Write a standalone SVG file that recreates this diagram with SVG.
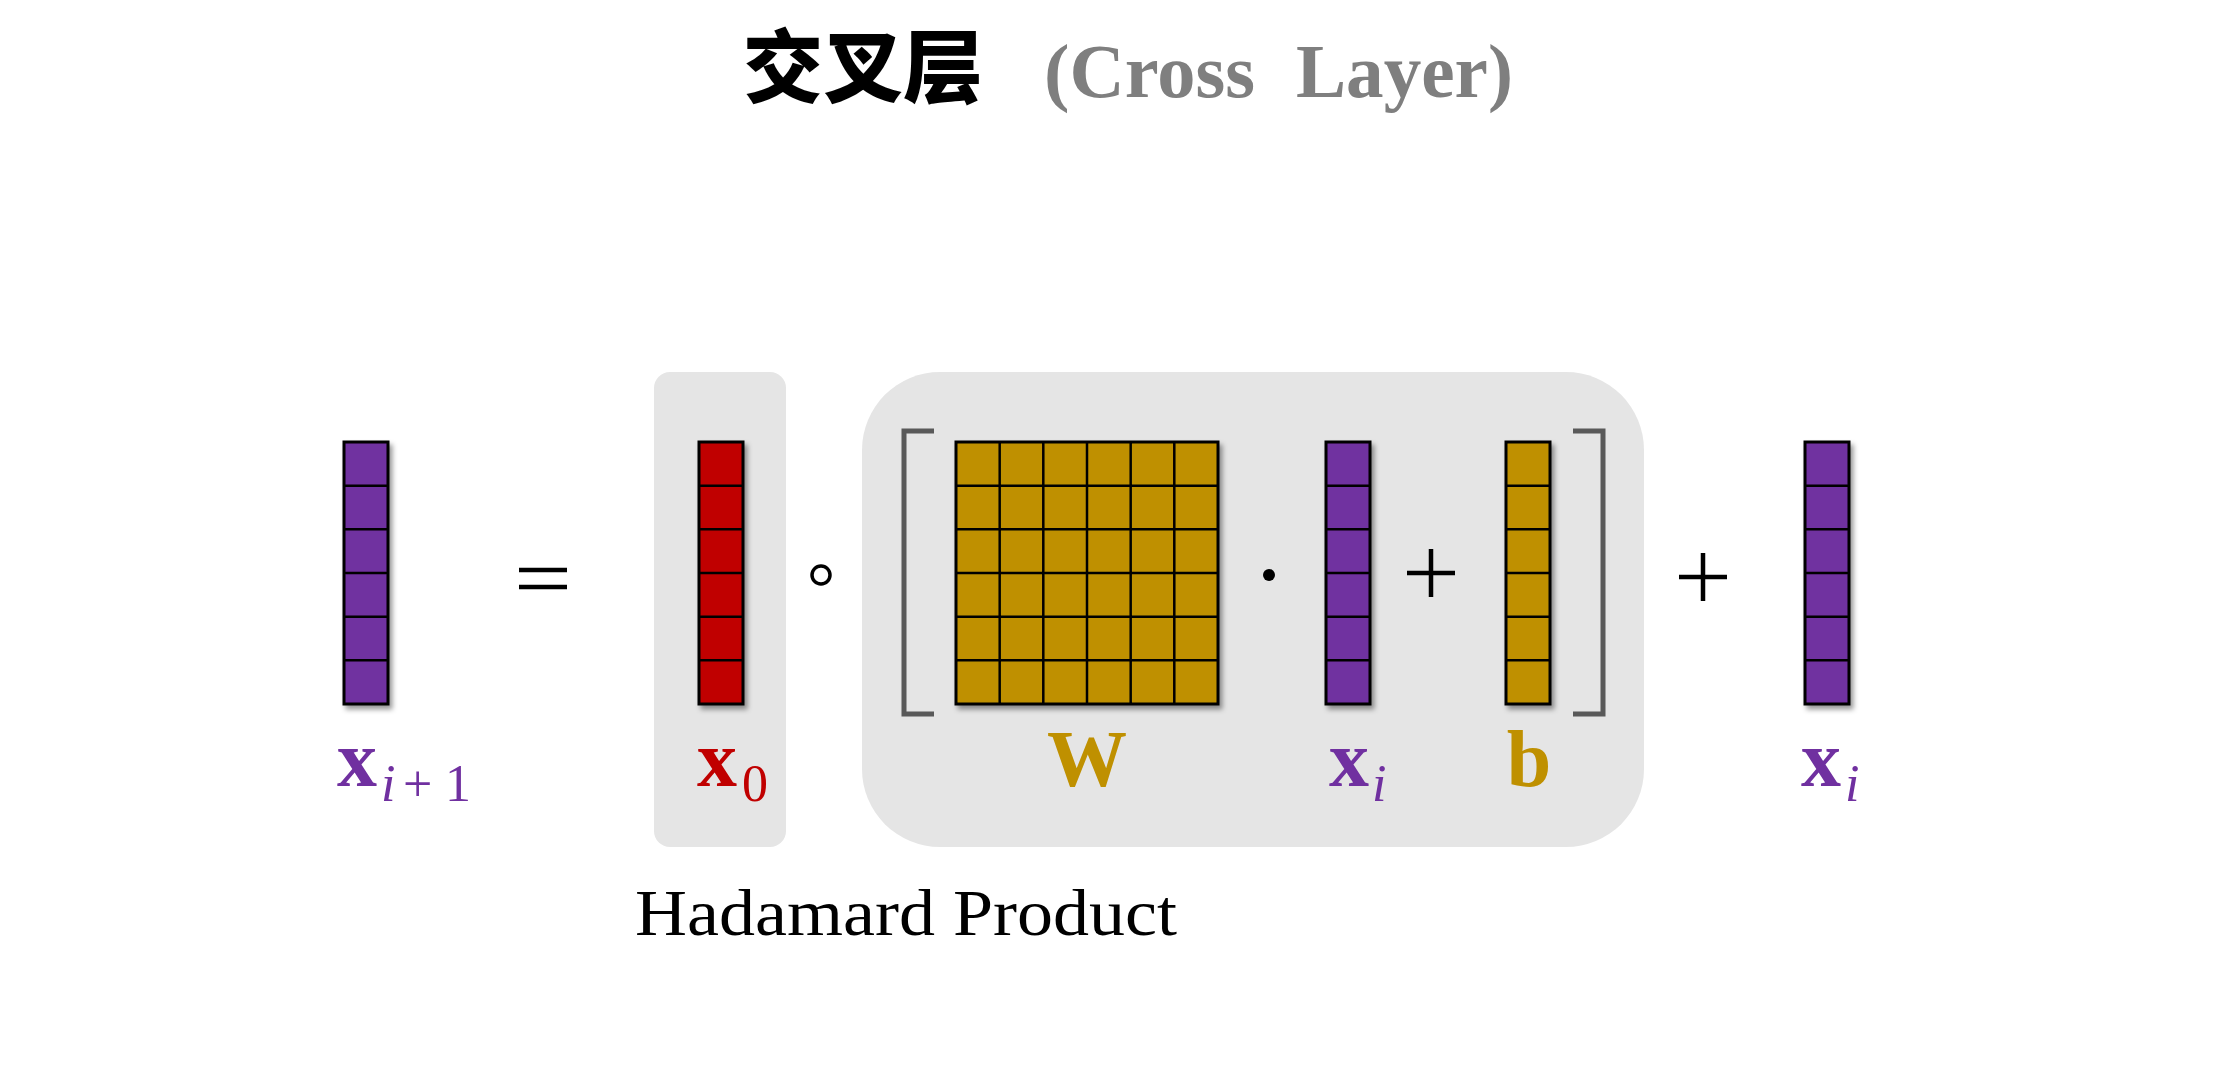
<svg xmlns="http://www.w3.org/2000/svg" xmlns:xlink="http://www.w3.org/1999/xlink" width="2228" height="1082" viewBox="0 0 2228 1082">
<style>
.lbl{font-family:"Liberation Serif","DejaVu Serif",serif;font-weight:bold;font-size:80px}
.sub{font-family:"Liberation Serif","DejaVu Serif",serif;font-size:52px;font-weight:normal}
.it{font-style:italic}
.grid{stroke:#000;stroke-width:2.5;fill:none}
.op{stroke:#000;stroke-width:4.5;fill:none}
.brk{stroke:#595959;stroke-width:5;fill:none}
.panel{fill:#E5E5E5}
</style>
<defs>
<filter id="sh" x="-30%" y="-10%" width="170%" height="130%">
<feDropShadow dx="3" dy="4" stdDeviation="2.5" flood-color="#000" flood-opacity="0.4"/>
</filter>
<g id="vec">
<rect x="0" y="0" width="44" height="262" stroke="#000" stroke-width="3"/>
<path class="grid" d="M0 43.7H44M0 87.3H44M0 131H44M0 174.7H44M0 218.3H44"/>
</g>
</defs>
<rect width="2228" height="1082" fill="#fff"/>

<g id="title">
<text x="743" y="96" font-family="'Noto Sans CJK SC','Noto Sans CJK JP',sans-serif" font-weight="900" font-size="80" fill="#000">交叉层</text>
<text x="1044" y="97" font-family="'Liberation Serif',serif" font-weight="bold" font-size="76" fill="#7F7F7F" textLength="211" lengthAdjust="spacingAndGlyphs">(Cross</text>
<text x="1296" y="97" font-family="'Liberation Serif',serif" font-weight="bold" font-size="76" fill="#7F7F7F" textLength="217" lengthAdjust="spacingAndGlyphs">Layer)</text>
</g>

<g id="panel-x0"><rect class="panel" x="654" y="372" width="132" height="475" rx="16"/></g>
<g id="panel-linear"><rect class="panel" x="862" y="372" width="782" height="475" rx="78"/></g>

<g id="vec-xi1">
<use xlink:href="#vec" href="#vec" x="344" y="442" fill="#7030A0" filter="url(#sh)"/>
<text class="lbl" x="337" y="786" fill="#7030A0">x<tspan class="sub it" x="381" y="801">i</tspan><tspan class="sub" x="403" y="801">+</tspan><tspan class="sub" x="445" y="801">1</tspan></text>
</g>

<g id="op-eq"><path class="op" d="M519 570H567M519 587H567"/></g>

<g id="vec-x0">
<use xlink:href="#vec" href="#vec" x="699" y="442" fill="#C00000" filter="url(#sh)"/>
<text class="lbl" x="697" y="786" fill="#C00000">x<tspan class="sub" x="742" y="801">0</tspan></text>
</g>

<g id="op-hadamard"><circle cx="821" cy="575" r="9" fill="none" stroke="#000" stroke-width="3.5"/></g>

<g id="bracket-left"><path class="brk" d="M934 431H904V714H934"/></g>

<g id="mat-W">
<g filter="url(#sh)">
<rect x="956" y="442" width="262" height="262" fill="#BF9000" stroke="#000" stroke-width="3"/>
<path class="grid" d="M999.7 442V704M1043.3 442V704M1087 442V704M1130.7 442V704M1174.3 442V704M956 485.7H1218M956 529.3H1218M956 573H1218M956 616.7H1218M956 660.3H1218"/>
</g>
<text class="lbl" x="1087" y="786" fill="#BF9000" text-anchor="middle">W</text>
</g>

<g id="op-dot"><circle cx="1269" cy="575" r="6" fill="#000"/></g>

<g id="vec-xi">
<use xlink:href="#vec" href="#vec" x="1326" y="442" fill="#7030A0" filter="url(#sh)"/>
<text class="lbl" x="1329" y="786" fill="#7030A0">x<tspan class="sub it" x="1372" y="801">i</tspan></text>
</g>

<g id="op-plus1"><path class="op" d="M1407 573H1455M1431 549V597"/></g>

<g id="vec-b">
<use xlink:href="#vec" href="#vec" x="1506" y="442" fill="#BF9000" filter="url(#sh)"/>
<text class="lbl" x="1529" y="786" fill="#BF9000" text-anchor="middle">b</text>
</g>

<g id="bracket-right"><path class="brk" d="M1573 431H1603V714H1573"/></g>

<g id="op-plus2"><path class="op" d="M1679 577H1727M1703 553V601"/></g>

<g id="vec-xi-res">
<use xlink:href="#vec" href="#vec" x="1805" y="442" fill="#7030A0" filter="url(#sh)"/>
<text class="lbl" x="1801" y="786" fill="#7030A0">x<tspan class="sub it" x="1845" y="801">i</tspan></text>
</g>

<g id="caption">
<text x="635" y="935" font-family="'Liberation Serif',serif" font-size="66" fill="#000" textLength="542" lengthAdjust="spacingAndGlyphs">Hadamard Product</text>
</g>
</svg>
